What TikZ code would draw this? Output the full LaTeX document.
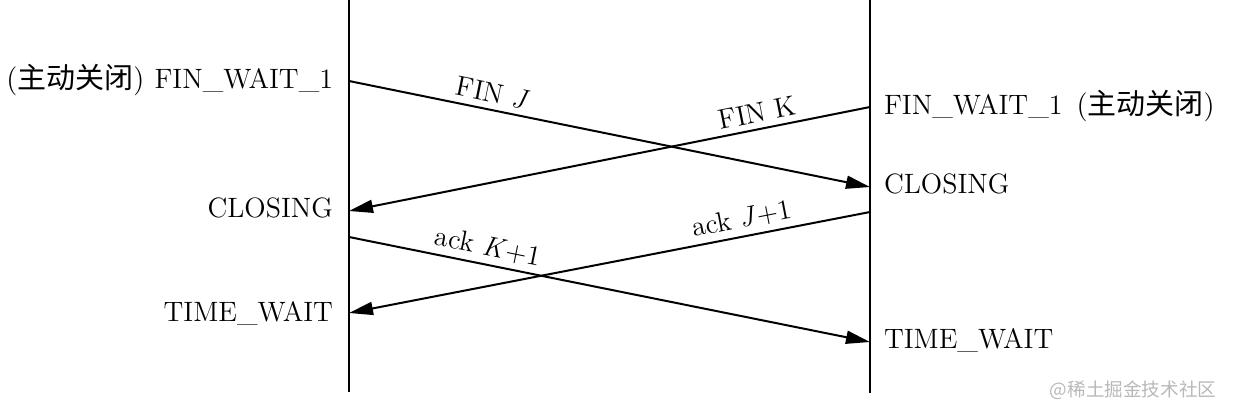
\documentclass[tikz,border=0pt]{standalone}
\usepackage{fontspec}
\newfontfamily\cjk{Noto Sans CJK SC}
\usetikzlibrary{arrows.meta,positioning}
\begin{document}
\begin{tikzpicture}[x=0.5pt,y=-0.5pt,line width=1pt,
    state/.style={inner sep=0pt,font=\fontsize{14}{16}\selectfont},
    note/.style={inner sep=0pt,font=\fontsize{14.5}{16}\selectfont},
    msg/.style={-{Triangle[length=12pt,width=6.5pt]}},
    lab/.style={sloped,above,inner sep=3pt,font=\fontsize{14}{16}\selectfont}]
  \useasboundingbox (0,0) rectangle (1238,414);
  \coordinate (ltop) at (349,0); \coordinate (lbot) at (349,392);
  \coordinate (rtop) at (870,0); \coordinate (rbot) at (870,393);
  \draw (ltop) -- (lbot);
  \draw (rtop) -- (rbot);
  \node[state,anchor=base east] (lfw) at (334,88) {FIN\_WAIT\_1};
  \node[note,base left=4pt of lfw] (lnote) {({\cjk 主动关闭})};
  \node[state,anchor=base east] (lcl) at (334,217) {CLOSING};
  \node[state,anchor=base east] (ltw) at (334,321) {TIME\_WAIT};
  \node[state,anchor=base west] (rfw) at (883,114) {FIN\_WAIT\_1};
  \node[note,base right=6pt of rfw] (rnote) {({\cjk 主动关闭})};
  \node[state,anchor=base west] (rcl) at (883,193) {CLOSING};
  \node[state,anchor=base west] (rtw) at (883,348) {TIME\_WAIT};
  \coordinate (a1) at (349,81); \coordinate (b1) at (870,187);
  \coordinate (b0) at (870,107); \coordinate (a2) at (349,211);
  \coordinate (b2) at (870,212); \coordinate (a4) at (349,313);
  \coordinate (a3) at (349,237); \coordinate (b3) at (870,342);
  \draw[msg] (a1) -- node[lab,pos=.27] (finj) {FIN \textit{J}} (b1);
  \draw[msg] (b0) -- node[lab,pos=.21] (fink) {FIN K} (a2);
  \draw[msg] (b2) -- node[lab,pos=.24] (ackj) {ack \textit{J}+1} (a4);
  \draw[msg] (a3) -- node[lab,pos=.26] (ackk) {ack \textit{K}+1} (b3);
  \node[anchor=east,text=black!28,font=\cjk\fontsize{9.3}{10}\selectfont] (mark) at (1224,390) {@稀土掘金技术社区};
\end{tikzpicture}
\end{document}
